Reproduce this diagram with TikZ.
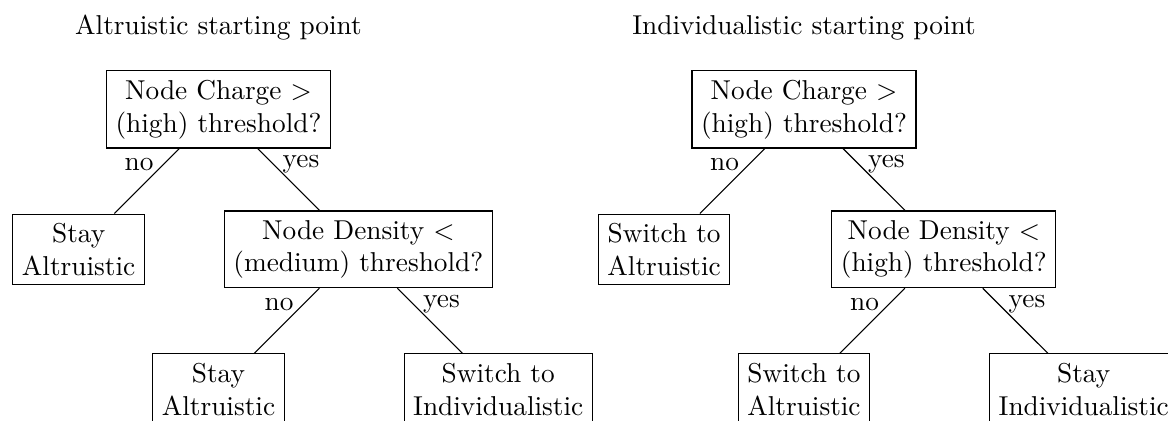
\documentclass[tikz,border=0pt]{standalone}
\usepackage{latexsym,amsmath,amssymb}
\usepackage{tikz}
\usepackage{xcolor}

\tikzset{
    question/.style={draw, black, align=center},
    outcome/.style={draw, black, align=center}
}

\begin{document}
\begin{tikzpicture}
        \useasboundingbox (-2.812, -4.009) rectangle (12.22, 1.409);
        \node[anchor=base] (alttitle) at (0, 0.959) {Altruistic starting point};
        \node[question] (altroot) at (0, 0) {Node Charge $>$\\(high) threshold?};
        \node[outcome] (altstay) at (-1.8, -1.8) {Stay\\Altruistic};
        \node[question] (altdensity) at (1.8, -1.8) {Node Density $<$\\(medium) threshold?};
        \node[outcome] (altstaytwo) at (0, -3.6) {Stay\\Altruistic};
        \node[outcome] (altswitch) at (3.6, -3.6) {Switch to\\Individualistic};
        \draw (altroot) -- node[near start, left] {no} (altstay);
        \draw (altroot) -- node[near start, right] {yes} (altdensity);
        \draw (altdensity) -- node[near start, left] {no} (altstaytwo);
        \draw (altdensity) -- node[near start, right] {yes} (altswitch);
        \node[anchor=base] (indtitle) at (7.535, 0.959) {Individualistic starting point};
        \node[question] (indroot) at (7.535, 0) {Node Charge $>$\\(high) threshold?};
        \node[outcome] (indswitch) at (5.735, -1.8) {Switch to\\Altruistic};
        \node[question] (inddensity) at (9.335, -1.8) {Node Density $<$\\(high) threshold?};
        \node[outcome] (indswitchtwo) at (7.535, -3.6) {Switch to\\Altruistic};
        \node[outcome] (indstay) at (11.135, -3.6) {Stay\\Individualistic};
        \draw (indroot) -- node[near start, left] {no} (indswitch);
        \draw (indroot) -- node[near start, right] {yes} (inddensity);
        \draw (inddensity) -- node[near start, left] {no} (indswitchtwo);
        \draw (inddensity) -- node[near start, right] {yes} (indstay);
    \end{tikzpicture}
\end{document}
